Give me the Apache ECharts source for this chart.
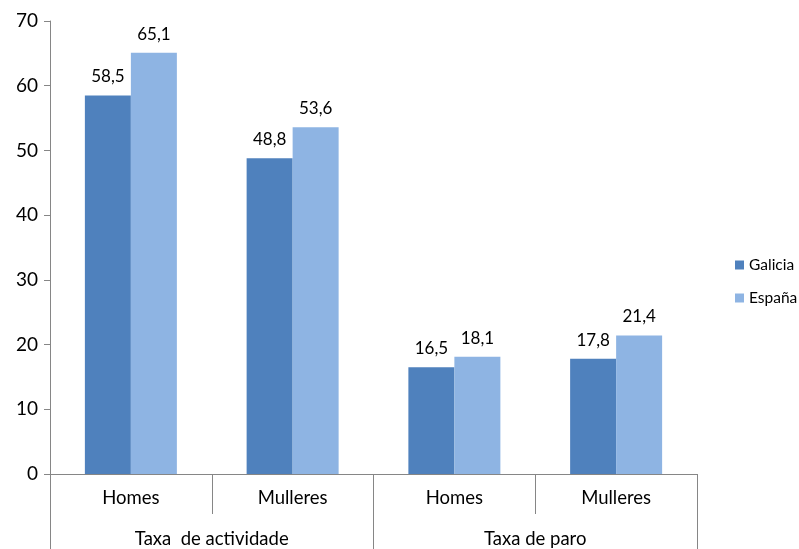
<!DOCTYPE html>
<html><head><meta charset="utf-8">
<script src="https://cdn.jsdelivr.net/npm/echarts@6/dist/echarts.min.js"></script>
<style>html,body{margin:0;padding:0;background:#fff}#c{width:799px;height:549px}</style>
</head><body><div id="c"></div>
<script>
const categories = ['Homes', 'Mulleres', 'Homes', 'Mulleres'];
const groups = ['Taxa  de actividade', 'Taxa de paro'];
const galicia = [58.5, 48.8, 16.5, 17.8];
const espana = [65.1, 53.6, 18.1, 21.4];
const yTicks = [0, 10, 20, 30, 40, 50, 60, 70];

const FONT = 'Lato, "Open Sans", sans-serif';
const chart = echarts.init(document.getElementById('c'));
const lbl = {
  show: true, position: 'top', distance: 10, color: '#000', fontSize: 17, fontFamily: FONT,
  formatter: p => String(p.value).replace('.', ',')
};
chart.setOption({
  animation: false,
  grid: { left: 50, right: 102, top: 21, bottom: 75, containLabel: false },
  legend: {
    orient: 'vertical', left: 730, top: 252, itemWidth: 9, itemHeight: 9, itemGap: 17,
    icon: 'rect', textStyle: { fontSize: 15.5, fontFamily: FONT, color: '#000' },
    data: ['Galicia', 'España']
  },
  xAxis: [
    {
      type: 'category', data: categories, position: 'bottom',
      axisLine: { lineStyle: { color: '#868686', width: 1 } },
      axisTick: { show: true, interval: 0, length: 40, lineStyle: { color: '#868686' } },
      axisLabel: { interval: 0, margin: 15, fontSize: 18.5, fontFamily: FONT, color: '#000' }
    },
    {
      type: 'category', data: groups, position: 'bottom',
      axisLine: { show: false },
      axisTick: { show: true, interval: 0, length: 75, lineStyle: { color: '#868686' } },
      axisLabel: { interval: 0, margin: 56, fontSize: 18.5, fontFamily: FONT, color: '#000' }
    }
  ],
  yAxis: {
    type: 'value', min: yTicks[0], max: yTicks[yTicks.length - 1], interval: 10,
    axisLine: { show: true, lineStyle: { color: '#868686' } },
    axisTick: { show: true, length: 6, lineStyle: { color: '#868686' } },
    splitLine: { show: false },
    axisLabel: { margin: 12, fontSize: 19, fontFamily: FONT, color: '#000' }
  },
  series: [
    { name: 'Galicia', type: 'bar', data: galicia, barWidth: 46, barGap: '0%',
      itemStyle: { color: '#4F81BD' }, label: lbl },
    { name: 'España', type: 'bar', data: espana, barWidth: 46, barGap: '0%',
      itemStyle: { color: '#8EB4E3' }, label: lbl }
  ]
});
</script></body></html>
